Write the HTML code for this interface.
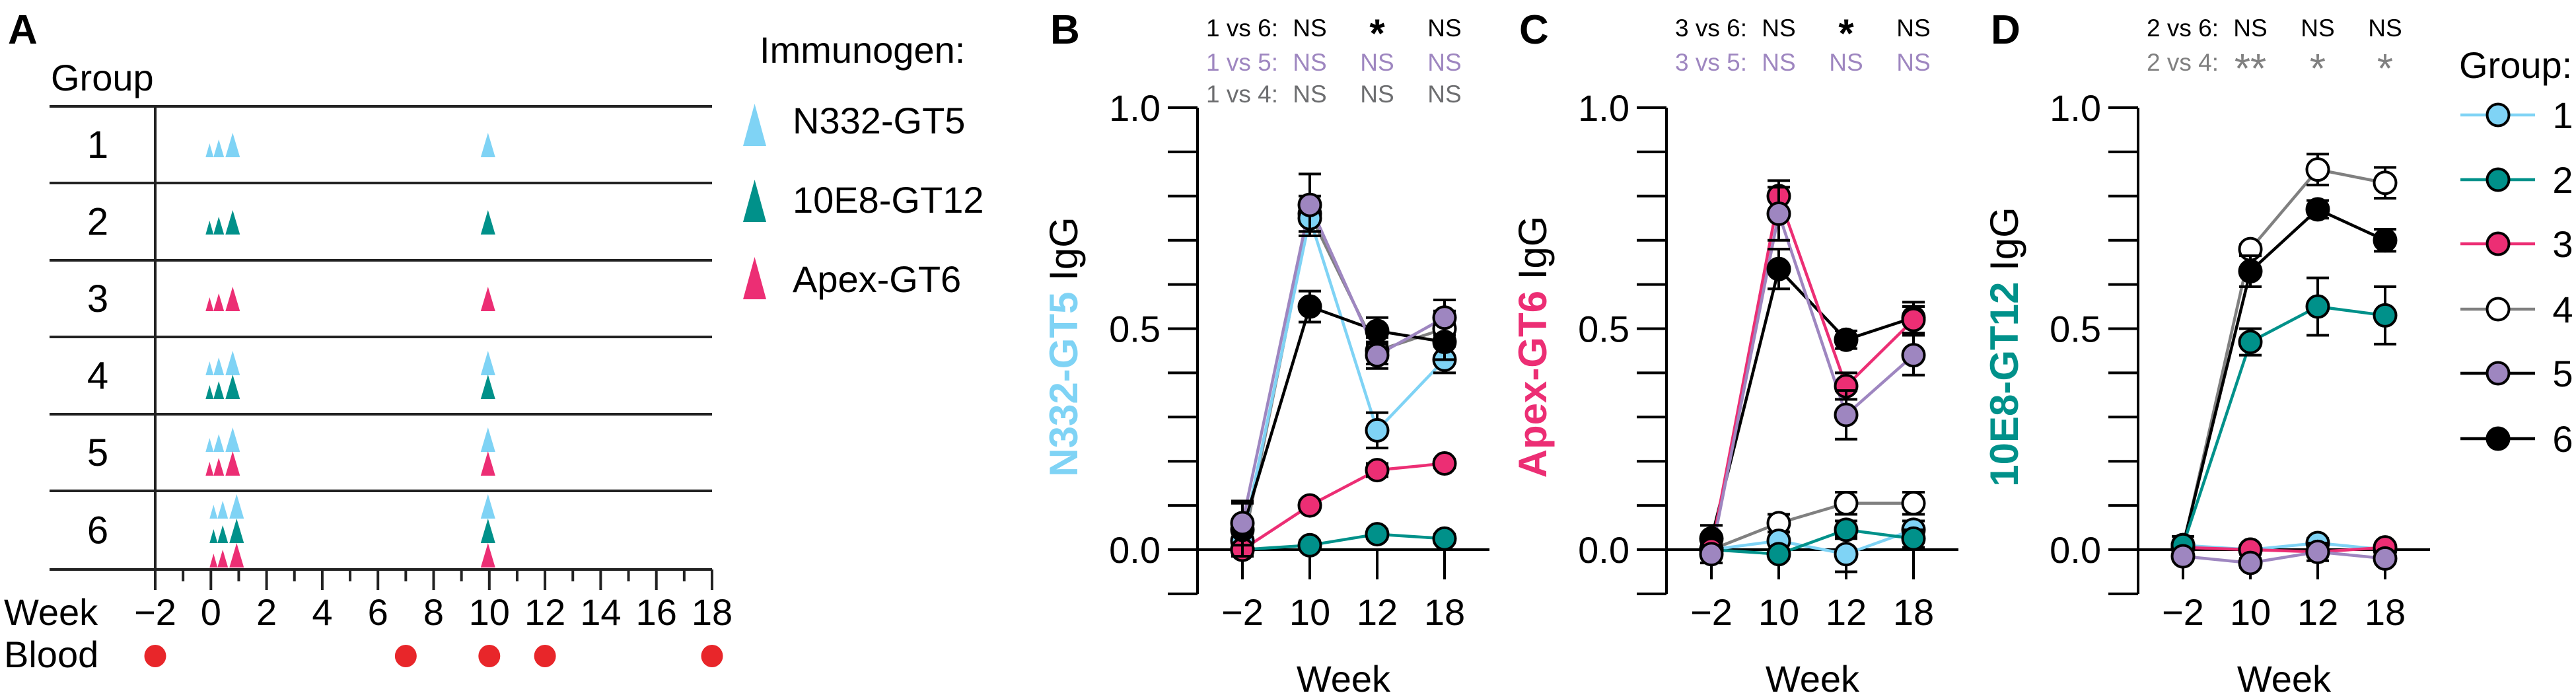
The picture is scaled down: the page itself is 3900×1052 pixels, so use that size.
<!DOCTYPE html>
<html><head><meta charset="utf-8"><style>
html,body{margin:0;padding:0;background:#fff}
svg{display:block;font-family:"Liberation Sans",Arial,sans-serif}
</style></head><body>
<svg id="fig" xmlns="http://www.w3.org/2000/svg" width="3900" height="1052" viewBox="0 0 3900 1052">
<rect width="3900" height="1052" fill="#fff"/>
<g id="panelA"></g>
<g id="panelB"></g>
<g id="panelC"></g>
<g id="panelD"></g>
<g id="legend"></g>
</svg>
<script>
// ---- data ----
const categories = ["\u22122","10","12","18"];
const yTicks = ["1.0","0.5","0.0"];
const yTickValues = [1.0,0.5,0.0];
const groups = ["1","2","3","4","5","6"];
const groupFill = ["#7fd3f5","#00918a","#ec2e74","#ffffff","#9e86c0","#000000"];
const groupLine = ["#7fd3f5","#00918a","#ec2e74","#808080","#9e86c0","#000000"];
const legendLine = ["#7fd3f5","#00918a","#ec2e74","#808080","#000000","#000000"];

// Panel B: N332-GT5 IgG
const bG1 = [0.02,0.75,0.27,0.43];
const bG2 = [0.0,0.01,0.035,0.025];
const bG3 = [0.0,0.10,0.18,0.195];
const bG4 = [0.0,0.76,0.45,0.50];
const bG5 = [0.06,0.78,0.44,0.525];
const bG6 = [0.045,0.55,0.495,0.47];
const bErr1 = [0.02,0.03,0.04,0.03];
const bErr2 = [0.01,0.01,0.01,0.01];
const bErr3 = [0.01,0.01,0.015,0.01];
const bErr4 = [0.01,0.04,0.03,0.04];
const bErr5 = [0.05,0.07,0.03,0.04];
const bErr6 = [0.06,0.035,0.03,0.04];

// Panel C: Apex-GT6 IgG
const cG1 = [0.0,0.02,-0.01,0.045];
const cG2 = [0.0,-0.01,0.045,0.025];
const cG3 = [0.0,0.80,0.37,0.52];
const cG4 = [0.0,0.06,0.105,0.105];
const cG5 = [-0.01,0.76,0.305,0.44];
const cG6 = [0.025,0.635,0.475,0.525];
const cErr1 = [0.01,0.02,0.04,0.02];
const cErr2 = [0.01,0.01,0.02,0.02];
const cErr3 = [0.01,0.035,0.03,0.03];
const cErr4 = [0.01,0.02,0.025,0.025];
const cErr5 = [0.02,0.06,0.055,0.045];
const cErr6 = [0.03,0.045,0.02,0.035];

// Panel D: 10E8-GT12 IgG
const dG1 = [0.01,0.0,0.015,0.0];
const dG2 = [0.01,0.47,0.55,0.53];
const dG3 = [0.005,0.0,-0.005,0.005];
const dG4 = [0.005,0.68,0.86,0.83];
const dG5 = [-0.015,-0.03,-0.005,-0.02];
const dG6 = [0.01,0.63,0.77,0.70];
const dErr1 = [0.01,0.01,0.01,0.01];
const dErr2 = [0.01,0.03,0.065,0.065];
const dErr3 = [0.01,0.01,0.01,0.01];
const dErr4 = [0.01,0.01,0.035,0.035];
const dErr5 = [0.01,0.01,0.02,0.01];
const dErr6 = [0.02,0.035,0.02,0.025];

// Panel A schedule data
const weekTicks = [-2,0,2,4,6,8,10,12,14,16,18];
const bloodWeeks = [-2,7,10,12,18];
const primeWeeks = [0,0.33,0.83];
const boostWeek = 10;
const rowImmunogens = [[0],[1],[2],[0,1],[0,2],[0,1,2]];
const immunogenNames = ["N332-GT5","10E8-GT12","Apex-GT6"];
const immunogenColors = ["#7fd3f5","#00918a","#ec2e74"];

const NS = "http://www.w3.org/2000/svg";
function mk(parent, tag, attrs, text){
  const e = document.createElementNS(NS, tag);
  for (const k in attrs) e.setAttribute(k, attrs[k]);
  if (text !== undefined) e.textContent = text;
  parent.appendChild(e);
  return e;
}

// ---------- Panel A ----------
(function(){
  const g = document.getElementById('panelA');
  const x0 = 235, wk = 42.15;
  const xw = w => x0 + (w + 2) * wk;
  let t = mk(g,'text',{x:12,y:66,'font-size':62,'font-weight':'bold'},'A');
  
  
  t = mk(g,'text',{x:77,y:137,'font-size':56},'Group');
  
  
  const rowY = [161,277,394,510,627,743,862];
  rowY.forEach((y,i)=>{
    const l = mk(g,'line',{x1:75,x2:1078,y1:y,y2:y,stroke:'#222','stroke-width':4});
    
    
  });
  const v = mk(g,'line',{x1:235,x2:235,y1:161,y2:862,stroke:'#222','stroke-width':4});
  
  
  for (let w=-2; w<=18; w++){
    const major = (w%2===0);
    const tk = mk(g,'line',{x1:xw(w),x2:xw(w),y1:862,y2:major?893:880,stroke:'#222','stroke-width':4});
    
    
  }
  weekTicks.forEach(w=>{
    const lb = mk(g,'text',{x:xw(w),y:946,'font-size':56,'text-anchor':'middle'}, w<0?'\u2212'+(-w):String(w));
    
    
  });
  t = mk(g,'text',{x:6,y:946,'font-size':56},'Week');
  
  
  t = mk(g,'text',{x:6,y:1010,'font-size':56},'Blood');
  
  
  bloodWeeks.forEach(w=>{
    const c = mk(g,'ellipse',{cx:xw(w),cy:993,rx:16.5,ry:17,fill:'#e8262a'});
    
    
  });
  const sizes = [[12,21],[16,27],[22,37]];
  function tri(cx, base, w, h, col){
    const p = mk(g,'polygon',{points:`${cx-w/2},${base} ${cx+w/2},${base} ${cx},${base-h}`,fill:col});
    
    
  }
  rowImmunogens.forEach((ims,r)=>{
    const top = rowY[r], bot = rowY[r+1];
    const lb = mk(g,'text',{x:148,y:(top+bot)/2+20,'font-size':58,'text-anchor':'middle'},groups[r]);
    
    
    let bases;
    if (ims.length===1) bases=[bot-39];
    else if (ims.length===2) bases=[bot-59,bot-23];
    else bases=[bot-77,bot-40,bot-3];
    const shift = ims.length===3 ? 6 : 0;
    ims.forEach((im,k)=>{
      primeWeeks.forEach((pw,j)=>{
        tri(xw(pw)+shift-2, bases[k], sizes[j][0], sizes[j][1], immunogenColors[im]);
      });
      tri(xw(boostWeek)-2, bases[k], 22, 37, immunogenColors[im]);
    });
  });
  // immunogen legend
  t = mk(g,'text',{x:1150,y:95,'font-size':56},'Immunogen:');
  
  
  const ly = [221,336,453], ty=[202,322,442];
  immunogenNames.forEach((n,i)=>{
    const p = mk(g,'polygon',{points:`${1125},${ly[i]} ${1160},${ly[i]} ${1142.5},${ly[i]-64}`,fill:immunogenColors[i]});
    
    
    const tx = mk(g,'text',{x:1200,y:ty[i],'font-size':56},n);
    
    
  });
})();

// ---------- Line charts ----------
function drawChart(id, cfg){
  const g = document.getElementById(id);
  const ax = cfg.axisX, y0 = 832, unit = 669;
  const yS = v => y0 - v*unit;
  const xS = i => ax + 68 + i*102;
  let t = mk(g,'text',{x:ax-223,y:66,'font-size':62,'font-weight':'bold'},cfg.letter);
  
  
  // axes
  let l = mk(g,'line',{x1:ax,x2:ax,y1:163,y2:899,stroke:'#000','stroke-width':4});
  
  
  for (let k=-1;k<=10;k++){
    const tk = mk(g,'line',{x1:ax-45,x2:ax,y1:yS(k/10),y2:yS(k/10),stroke:'#000','stroke-width':4});
    
    
  }
  yTickValues.forEach((v,i)=>{
    const lb = mk(g,'text',{x:ax-56,y:yS(v)+20,'font-size':56,'text-anchor':'end'},yTicks[i]);
    
    
  });
  l = mk(g,'line',{x1:ax-45,x2:xS(3)+68,y1:y0,y2:y0,stroke:'#000','stroke-width':4});
  
  
  categories.forEach((c,i)=>{
    const tk = mk(g,'line',{x1:xS(i),x2:xS(i),y1:y0,y2:y0+45,stroke:'#000','stroke-width':4});
    
    
    const lb = mk(g,'text',{x:xS(i),y:946,'font-size':56,'text-anchor':'middle'},c);
    
    
  });
  t = mk(g,'text',{x:(xS(0)+xS(3))/2,y:1047,'font-size':56,'text-anchor':'middle'},'Week');
  
  
  // y title
  const tx = ax-203, ty = 525;
  t = mk(g,'text',{x:tx,y:ty,'font-size':60,'text-anchor':'middle',transform:`rotate(-90 ${tx} ${ty})`,dy:21});
  
  
  mk(t,'tspan',{fill:cfg.titleColor,'font-weight':'bold'},cfg.title);
  mk(t,'tspan',{fill:'#000'},' IgG');
  // significance annotations
  cfg.ann.forEach((row,r)=>{
    const by = [55,107,155][r];
    const lb = mk(g,'text',{x:xS(1)-48,y:by,'font-size':37,'text-anchor':'end',fill:row.color},row.label);
    
    
    row.marks.forEach((m,j)=>{
      const star = m.indexOf('*')>=0;
      const st = mk(g,'text',{x:xS(j+1),y:star?by+(row.color==='#000'?16:18):by,'font-size':star?(row.color==='#000'?60:62):37,'font-weight':star&&row.color==='#000'?'bold':'normal','text-anchor':'middle',fill:row.color},m);
      
      
    });
  });
  // series
  const order = cfg.order;
  order.forEach(gi=>{
    const vals = cfg.series[gi];
    const pts = vals.map((v,i)=>`${xS(i)},${yS(v)}`).join(' ');
    const pl = mk(g,'polyline',{points:pts,fill:'none',stroke:groupLine[gi],'stroke-width':4.5});
    
    
  });
  order.forEach(gi=>{
    const vals = cfg.series[gi], errs = cfg.errs[gi];
    vals.forEach((v,i)=>{
      const e = errs[i];
      const eb = mk(g,'path',{d:`M${xS(i)},${yS(v+e)}V${yS(v-e)}M${xS(i)-17},${yS(v+e)}H${xS(i)+17}M${xS(i)-17},${yS(v-e)}H${xS(i)+17}`,stroke:'#000','stroke-width':4,fill:'none'});
      
      
      const c = mk(g,'circle',{cx:xS(i),cy:yS(v),r:16.5,fill:groupFill[gi],stroke:'#000','stroke-width':4});
      
      
    });
  });
}

drawChart('panelB',{axisX:1813,letter:'B',title:'N332-GT5',titleColor:'#7fd3f5',
  series:[bG1,bG2,bG3,bG4,bG5,bG6],errs:[bErr1,bErr2,bErr3,bErr4,bErr5,bErr6],order:[3,0,1,2,5,4],
  ann:[{label:'1 vs 6:',color:'#000',marks:['NS','*','NS']},
       {label:'1 vs 5:',color:'#9e86c0',marks:['NS','NS','NS']},
       {label:'1 vs 4:',color:'#6d6e70',marks:['NS','NS','NS']}]});
drawChart('panelC',{axisX:2523,letter:'C',title:'Apex-GT6',titleColor:'#ec2e74',
  series:[cG1,cG2,cG3,cG4,cG5,cG6],errs:[cErr1,cErr2,cErr3,cErr4,cErr5,cErr6],order:[3,0,1,5,2,4],
  ann:[{label:'3 vs 6:',color:'#000',marks:['NS','*','NS']},
       {label:'3 vs 5:',color:'#9e86c0',marks:['NS','NS','NS']}]});
drawChart('panelD',{axisX:3237,letter:'D',title:'10E8-GT12',titleColor:'#00918a',
  series:[dG1,dG2,dG3,dG4,dG5,dG6],errs:[dErr1,dErr2,dErr3,dErr4,dErr5,dErr6],order:[0,2,3,5,1,4],
  ann:[{label:'2 vs 6:',color:'#000',marks:['NS','NS','NS']},
       {label:'2 vs 4:',color:'#808080',marks:['**','*','*']}]});

// ---------- Group legend ----------
(function(){
  const g = document.getElementById('legend');
  const t = mk(g,'text',{x:3723,y:118,'font-size':56},'Group:');
  
  
  const ys = [174,272,369,468,565,664];
  groups.forEach((n,i)=>{
    const l = mk(g,'line',{x1:3725,x2:3838,y1:ys[i],y2:ys[i],stroke:legendLine[i],'stroke-width':4.5});
    
    
    const c = mk(g,'circle',{cx:3782,cy:ys[i],r:16.5,fill:groupFill[i],stroke:'#000','stroke-width':4});
    
    
    const tx = mk(g,'text',{x:3880,y:ys[i]+20,'font-size':56,'text-anchor':'middle'},n);
    
    
  });
})();
</script>
</body></html>
